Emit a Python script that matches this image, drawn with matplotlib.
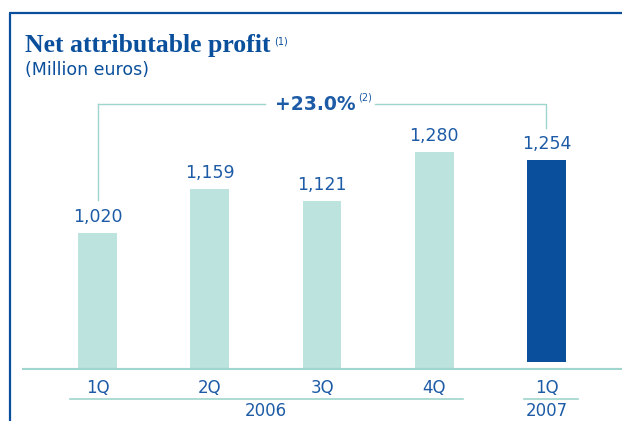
import matplotlib
matplotlib.use("Agg")
import matplotlib.pyplot as plt
from matplotlib.lines import Line2D

# ---- data ----
quarters = ["1Q", "2Q", "3Q", "4Q", "1Q"]
values = [1020, 1159, 1121, 1280, 1254]
value_labels = ["1,020", "1,159", "1,121", "1,280", "1,254"]
years = ["2006", "2007"]
growth_label = "+23.0%"

W, H = 622, 421
fig = plt.figure(figsize=(W / 100, H / 100), dpi=100)
fig.patch.set_facecolor("white")

def fx(px):
    return px / W

def fy(py):
    return 1 - py / H

DARK = "#0a4f9c"
TEXT = "#1d5ba6"
LIGHT = "#bce3de"
LINE = "#9ed5cc"

# frame
fig.add_artist(Line2D([fx(10), fx(10)], [fy(13), fy(421)], color=DARK, lw=1.6,
                      solid_capstyle="butt"))
fig.add_artist(Line2D([fx(9.2), fx(622)], [fy(13), fy(13)], color=DARK, lw=1.6,
                      solid_capstyle="butt"))

# title
fig.text(fx(25), fy(52), "Net attributable profit", fontsize=18.5, fontweight="bold",
         family="Liberation Serif", color=DARK, va="baseline", ha="left")
fig.text(fx(274), fy(41), "(1)", fontsize=7, family="DejaVu Sans",
         color=DARK, va="center", ha="left")
fig.text(fx(25), fy(75), "(Million euros)", fontsize=12.5, family="DejaVu Sans",
         color=DARK, va="baseline", ha="left")

# bar axes
ax = fig.add_axes([fx(22), fy(370), fx(600), 270 / H])
ax.set_xlim(-0.673, 4.673)
ax.set_ylim(581, 1445)
ax.axis("off")

x = list(range(len(values)))
colors = [LIGHT] * 4 + [DARK]
bottoms = [581] * 4 + [607]
heights = [v - b for v, b in zip(values, bottoms)]
ax.bar(x, heights, bottom=bottoms, width=0.347, color=colors, zorder=2)
ax.axhline(581, color=LINE, lw=3, zorder=3, xmin=0, xmax=1)

for xi, v, lab in zip(x, values, value_labels):
    ax.annotate(lab, (xi, v), xytext=(0, 5), textcoords="offset points",
                ha="center", va="bottom", fontsize=12.5, color=TEXT,
                family="DejaVu Sans")

# growth bracket
ytop = 1432
ax.plot([0, 0], [1124, ytop], color=LINE, lw=1, zorder=1, clip_on=False)
ax.plot([0, 1.49], [ytop, ytop], color=LINE, lw=1, zorder=1, clip_on=False)
ax.plot([2.47, 4, 4], [ytop, ytop, 1356], color=LINE, lw=1, zorder=1, clip_on=False)
ax.text(1.94, ytop, growth_label, ha="center", va="center", fontsize=13.5,
        fontweight="bold", color=TEXT, family="DejaVu Sans")
ax.text(2.32, ytop + 22, "(2)", ha="left", va="center", fontsize=7,
        color=TEXT, family="DejaVu Sans")

# quarter labels
for xi, q in zip(x, quarters):
    ax.text(xi, -0.068, q, transform=ax.get_xaxis_transform(), ha="center",
            va="center", fontsize=12, color=TEXT, family="DejaVu Sans")

# year lines and labels
ax.plot([-0.245, 3.26], [-0.108, -0.108], transform=ax.get_xaxis_transform(),
        color=LINE, lw=1.2, clip_on=False)
ax.plot([3.8, 4.28], [-0.108, -0.108], transform=ax.get_xaxis_transform(),
        color=LINE, lw=1.2, clip_on=False)
ax.text(1.5, -0.152, years[0], transform=ax.get_xaxis_transform(), ha="center",
        va="center", fontsize=12, color=TEXT, family="DejaVu Sans")
ax.text(4, -0.152, years[1], transform=ax.get_xaxis_transform(), ha="center",
        va="center", fontsize=12, color=TEXT, family="DejaVu Sans")

fig.savefig("out.png", dpi=100)
